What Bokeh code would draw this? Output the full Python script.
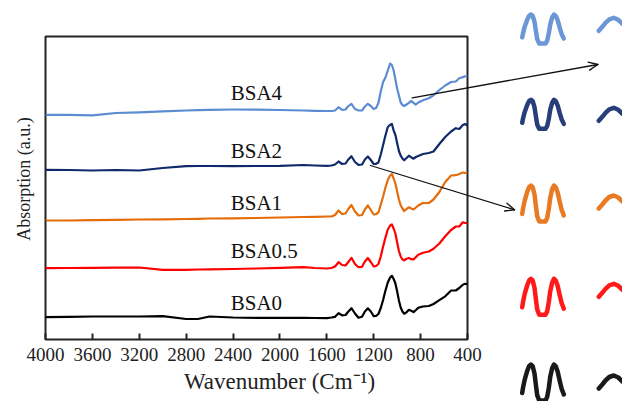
import math
from bokeh.plotting import figure
from bokeh.models import Range1d, FixedTicker, ColumnDataSource
from bokeh.embed import file_html
from bokeh.resources import INLINE
from bokeh.core.properties import value

# ---------------- data ----------------
WAVENUMBER = [4000, 3800, 3600, 3400, 3200, 3000, 2800, 2700, 2600, 2400,
              2200, 2000, 1800, 1700, 1600, 1560, 1530, 1500, 1470, 1440,
              1420, 1390, 1360, 1330, 1300, 1275, 1250, 1225, 1200, 1180,
              1160, 1140, 1120, 1100, 1080, 1060, 1045, 1030, 1015, 1000,
              985, 970, 955, 940, 920, 900, 880, 860, 840, 820,
              780, 730, 690, 640, 590, 540, 500, 470, 440, 420, 400]

BSA0 = [22.3, 22.7, 23, 23, 23, 23.3, 20.5, 20.5, 23, 22,
        21.7, 21.7, 21.7, 21.5, 21.3, 22, 22.7, 26.3, 24.2, 24.5,
        27.5, 31.3, 26, 21.7, 22.7, 28, 31.2, 28, 23.3, 23.7,
        25.5, 31.5, 39.5, 49, 57, 62, 63.7, 60.5, 56, 48,
        39, 32, 28, 25.8, 27.2, 29.7, 28.8, 27.4, 29.5, 31.8,
        33, 33.5, 35.5, 39.4, 43.2, 49, 49, 51.5, 54.8, 55.7, 55.5]

BSA0_5 = [71.3, 71.5, 71.7, 71.8, 72, 69.7, 69.7, 70, 70.2, 70.5,
          71, 71.7, 72.3, 71.5, 71, 71.5, 73, 77.3, 74.5, 74,
          77, 81.7, 75.5, 72.3, 72.7, 78, 81.5, 77.5, 73, 73.5,
          75.5, 83, 93, 102, 110, 114, 115, 111, 106, 97,
          88.5, 83, 80, 79.2, 80.7, 81.5, 80.3, 80, 82.5, 84.8,
          86.7, 88, 90.7, 96, 103.3, 109.5, 113, 113, 117.2, 116.5, 116.5]

BSA1 = [119, 119, 119.3, 119.7, 120, 120.2, 120.5, 120.7, 121, 121.2,
        121.5, 122, 122.5, 122.7, 123, 123, 124.5, 129, 125.5, 126,
        130, 134.5, 128, 124, 124.5, 130, 134, 129.5, 125, 125.3,
        127, 135, 143, 152, 159.5, 164, 165.5, 161, 156, 148,
        140, 134.2, 131, 128.5, 130.5, 132.2, 131, 130, 132, 134,
        136.5, 136.5, 140, 147.5, 157.5, 164, 164.3, 165.5, 167, 166.5, 167]

BSA2 = [169.7, 169.5, 169, 169.5, 169, 171.5, 173.3, 173.5, 173.5, 173.3,
        173.5, 173.7, 174.5, 174, 173.7, 174, 175, 178, 175.5, 176,
        179.5, 183.3, 177.5, 174.7, 175, 180, 183, 179.5, 175.5, 175.7,
        177, 185, 194.5, 204, 212.5, 214.7, 215.5, 209, 204.5, 196.2,
        188.5, 183.8, 181, 179.2, 181.5, 183.8, 182.2, 180.8, 182.5, 183.5,
        185.5, 186.5, 188, 195.5, 202.5, 208, 211.3, 210.5, 214.5, 215.5, 214]

BSA4 = [224.7, 224.7, 224.2, 226.5, 227.2, 228.2, 229, 229.4, 229.7, 230,
        229.8, 229.5, 229, 228.7, 228.5, 228.5, 229, 232.3, 229.7, 230,
        233, 235.7, 230.5, 229, 229, 233, 235.7, 233.5, 230.5, 231.5,
        236.5, 248, 257.5, 262, 269, 276, 274.5, 269, 260, 250.7,
        244, 237, 234.5, 233.5, 235, 236.7, 238.7, 236.5, 235, 237,
        239.2, 241.2, 244.2, 249.5, 254, 257.5, 258, 261.3, 262.4, 263.2, 263]

SERIES_NAMES = ["BSA0", "BSA0.5", "BSA1", "BSA2", "BSA4"]
SERIES_VALUES = [BSA0, BSA0_5, BSA1, BSA2, BSA4]
COLORS = ["#000000", "#FF0000", "#E46C0A", "#10296B", "#5B8CD2"]
LABEL_Y = [36.5, 88.5, 137, 188.5, 246.5]
X_TICKS = [4000, 3600, 3200, 2800, 2400, 2000, 1600, 1200, 800, 400]

# ---------------- layout constants ----------------
W, H = 622, 401
FL, FR, FT, FB = 45, 467, 36, 339
X0, X1 = 4000, 400
Y0, Y1 = 0, FB - FT
LABEL_X = 2420
NBSP = "\u00a0"

def px_to_x(px):
    return X0 + (px - FL) * (X1 - X0) / (FR - FL)

def py_to_y(py):
    return Y0 + (FB - py) * (Y1 - Y0) / (FB - FT)

p = figure(width=W, height=H, x_range=Range1d(X0, X1), y_range=Range1d(Y0, Y1),
           output_backend="svg", toolbar_location=None,
           min_border_left=FL, min_border_right=W - FR,
           min_border_top=FT, min_border_bottom=H - FB)
p.background_fill_color = "white"
p.border_fill_color = "white"
p.outline_line_color = "#222222"
p.outline_line_width = 2
p.xgrid.visible = False
p.ygrid.visible = False

xa = p.xaxis[0]
xa.ticker = FixedTicker(ticks=X_TICKS)
xa.axis_line_color = None
xa.major_tick_in = 6
xa.major_tick_out = 0
xa.major_tick_line_color = "#222222"
xa.major_tick_line_width = 2
xa.minor_tick_line_color = None
xa.major_label_text_font = "Liberation Serif"
xa.major_label_text_font_size = "19px"
xa.major_label_text_color = "#222222"
xa.major_label_standoff = 8
xa.axis_label = NBSP * 8 + "Wavenumber (Cm\u207b\u00b9)"
xa.axis_label_text_font = "Liberation Serif"
xa.axis_label_text_font_size = "23px"
xa.axis_label_text_font_style = "normal"
xa.axis_label_text_color = "#222222"
xa.axis_label_standoff = 5

ya = p.yaxis[0]
ya.ticker = FixedTicker(ticks=[])
ya.axis_line_color = None
ya.major_tick_line_color = None
ya.minor_tick_line_color = None
ya.major_label_text_font_size = "0px"
ya.axis_label = NBSP * 4 + "Absorption (a.u.)"
ya.axis_label_text_font = "Liberation Serif"
ya.axis_label_text_font_size = "18px"
ya.axis_label_text_font_style = "normal"
ya.axis_label_text_color = "#222222"
ya.axis_label_standoff = 12

for name, vals, col in zip(SERIES_NAMES, SERIES_VALUES, COLORS):
    p.line(WAVENUMBER, vals, line_color=col, line_width=2.2, line_join="round")

src = ColumnDataSource(dict(x=[LABEL_X] * len(SERIES_NAMES), y=LABEL_Y, t=SERIES_NAMES))
p.text(x="x", y="y", text="t", source=src, text_font=value("Liberation Serif"),
       text_font_size="21px", text_color="#111111", text_align="left",
       text_baseline="middle")

# ---------------- zoomed-peak insets (decoration, outside the frame) ----------------
M_DX = [0, 0.8, 2.5, 5, 7, 8.8, 10.5, 12.3, 13.6, 15, 17, 20, 23.3, 25, 26.6,
        28, 30, 31.8, 33.6, 35.5, 37.5, 39.5, 41.6]
M_DY = [0.79, 0.65, 0.42, 0.18, 0.04, 0, 0.05, 0.25, 0.55, 0.85, 1, 1, 1, 0.9, 0.65,
        0.35, 0.1, 0, 0.05, 0.2, 0.45, 0.68, 0.83]
C_DX = [0, 3.5, 6.7, 10.5, 15, 19.5, 23.7]
C_DY = [13, 9, 5, 1.5, 0, 2, 6]
M_LEFT, C_LEFT = 521.7, 598.3
M_PEAK = [364, 278.3, 185, 99.3, 14]
M_HEIGHT = [36, 36, 36, 29, 29]
C_PEAK = [375, 283.3, 195, 107.3, 17.3]

for col, mp, mh, cp in zip(COLORS, M_PEAK, M_HEIGHT, C_PEAK):
    for xs, ys in (([M_LEFT + d for d in M_DX], [mp + f * mh for f in M_DY]),
                   ([C_LEFT + d for d in C_DX], [cp + d for d in C_DY])):
        r = p.line([px_to_x(v) for v in xs], [py_to_y(v) for v in ys],
                   line_color=col, line_width=4.5, line_cap="round", line_join="round",
                   line_alpha=0.9)
        r.level = "overlay"

# pointer arrows
ARROWS = [((411.7, 97.3), (597.3, 64.0)), ((370.0, 165.0), (514.0, 209.3))]
HEAD_LEN, HEAD_ANG = 10, math.radians(24)
for (sx0, sy0), (sx1, sy1) in ARROWS:
    ang = math.atan2(sy1 - sy0, sx1 - sx0)
    wings = [(sx1 - HEAD_LEN * math.cos(ang + s * HEAD_ANG),
              sy1 - HEAD_LEN * math.sin(ang + s * HEAD_ANG)) for s in (1, -1)]
    xs0 = [sx0, wings[0][0], wings[1][0]]
    ys0 = [sy0, wings[0][1], wings[1][1]]
    r = p.segment(x0=[px_to_x(v) for v in xs0], y0=[py_to_y(v) for v in ys0],
                  x1=[px_to_x(sx1)] * 3, y1=[py_to_y(sy1)] * 3,
                  line_color="#111111", line_width=1.3, line_cap="round")
    r.level = "overlay"

open("out.html", "w").write(file_html(p, INLINE))
